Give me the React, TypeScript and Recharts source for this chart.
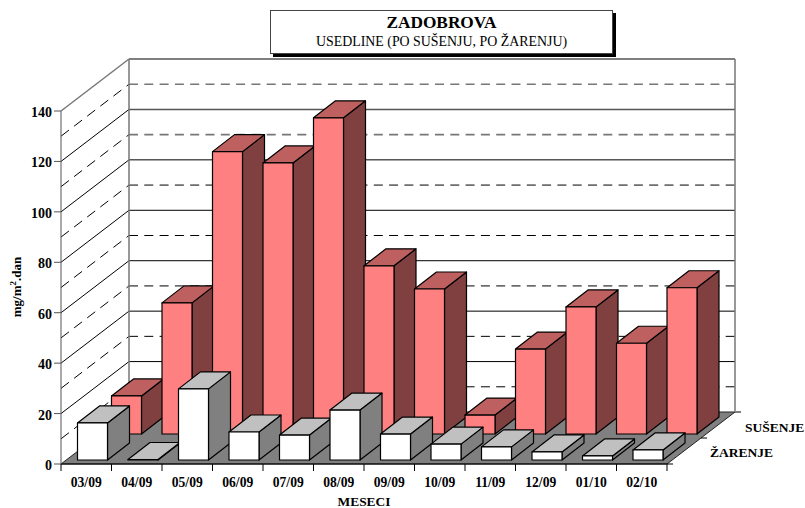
import React from "react";
import { ComposedChart, Bar, XAxis, YAxis, CartesianGrid } from "recharts";

const categories = ["03/09","04/09","05/09","06/09","07/09","08/09","09/09","10/09","11/09","12/09","01/10","02/10"];
const susenje = [15.1,52,112,107.5,125.4,66.7,57.5,7.5,33.7,50.4,36,58];
const zarenje = [14.7,0.2,28.2,11.1,9.9,19.8,10.3,6.3,5.2,3.2,1.6,4];
const wallValues = [0,10,20,30,40,50,60,70,80,90,100,110,120,130,140];
const yTicks = [0,20,40,60,80,100,120,140];
const depthNames = ["SUŠENJE","ŽARENJE"];
const table = categories.map((month, i) => ({ month, susenje: susenje[i], zarenje: zarenje[i] }));

const WALL_DX = 68;
const WALL_DY = -52;
const SERIF = "'Liberation Serif', 'Times New Roman', serif";

const makeBox = (front: string, top: string, side: string, dx: number, dy: number) => (p: any) => {
  const x = p.x + dx, y = p.y + dy, w = p.width, h = p.height;
  const ox = 22, oy = -17;
  return (
    <g stroke="#000" strokeWidth={1.2} strokeLinejoin="round">
      <path d={`M${x + w} ${y}L${x + w + ox} ${y + oy}V${y + h + oy}L${x + w} ${y + h}Z`} fill={side} />
      <path d={`M${x} ${y}L${x + ox} ${y + oy}H${x + w + ox}L${x + w} ${y}Z`} fill={top} />
      <rect x={x} y={y} width={w} height={h} fill={front} />
    </g>
  );
};
const redBox = makeBox("#FF8080", "#BF6060", "#804040", 40.5, -30);
const whiteBox = makeBox("#FFFFFF", "#C0C0C0", "#808080", 6.5, -4);

const WallLine = (p: any) => {
  const value = wallValues[p.index];
  const { x1, x2, y1 } = p;
  const yb = y1 + WALL_DY;
  const dashed = value % 20 !== 0;
  const upper = value >= 110;
  const hStroke = !upper ? "#000" : dashed ? "#777" : "#555";
  const dash = dashed ? "10 6.5" : undefined;
  const line = (
    <>
      <path d={`M${x1} ${y1}L${x1 + WALL_DX} ${yb}`} fill="none" stroke={value === 140 ? "#777" : "#000"} strokeWidth={value === 140 ? 1.5 : 1} strokeDasharray={dash} />
      <path d={`M${x1 + WALL_DX} ${yb}H${x2 + WALL_DX}`} fill="none" stroke={hStroke} strokeWidth={upper ? 1.6 : 1} strokeDasharray={dashed ? "9 6.3" : undefined} />
    </>
  );
  if (value === 0) {
    return (
      <g key={p.index}>
        <path d={`M${x1} ${y1}L${x1 + WALL_DX} ${yb}H${x2 + WALL_DX}L${x2} ${y1}Z`} fill="#808080" stroke="#222" strokeWidth={1} />
        {[0, 1, 2].map((k) => (
          <line key={k} x1={x2 + (WALL_DX * k) / 2} x2={x2 + (WALL_DX * k) / 2 + 6} y1={y1 + (WALL_DY * k) / 2} y2={y1 + (WALL_DY * k) / 2} stroke="#000" />
        ))}
        {depthNames.map((name, k) => (
          <text key={name} x={k === 0 ? 745 : 710} y={k === 0 ? 432 : 457} fontFamily={SERIF} fontWeight="bold" fontSize={13.5} fill="#000">{name}</text>
        ))}
      </g>
    );
  }
  if (value === 140) {
    return (
      <g key={p.index}>
        {line}
        <path d={`M${x1 + WALL_DX} ${yb}V${yb + 352}M${x2 + WALL_DX} ${yb}V${yb + 352}`} fill="none" stroke="#777" strokeWidth={1.5} />
      </g>
    );
  }
  return <g key={p.index}>{line}</g>;
};

const MonthTick = (p: any) => {
  const half = 25.25;
  const last = p.index === categories.length - 1;
  return (
    <g>
      <line x1={p.x - half} x2={p.x - half} y1={p.y - 8} y2={p.y - 1} stroke="#000" />
      {last && <line x1={p.x + half} x2={p.x + half} y1={p.y - 8} y2={p.y - 1} stroke="#000" />}
      <text x={p.x} y={p.y + 15} textAnchor="middle" fontFamily={SERIF} fontWeight="bold" fontSize={13.6} fill="#000">{p.payload.value}</text>
    </g>
  );
};

export default function App() {
  return (
    <div style={{ position: "absolute", left: 0, top: 0, width: 805, height: 508, background: "#fff" }}>
      <ComposedChart width={805} height={508} data={table} margin={{ top: 111, right: 138, bottom: 14, left: 11 }}>
        <CartesianGrid vertical={false} horizontal={WallLine} horizontalValues={wallValues} />
        <XAxis dataKey="month" xAxisId="main" height={30} interval={0} tickLine={false} stroke="#000" tick={MonthTick}
          label={{ value: "MESECI", position: "insideBottom", offset: -12, fontFamily: SERIF, fontWeight: "bold", fontSize: 13.4, fill: "#000" }} />
        <XAxis dataKey="month" xAxisId="hiddenAxis" hide height={0} />
        <YAxis width={50} domain={[0, 140]} ticks={yTicks} tickSize={7} tickMargin={2} stroke="#555"
          tick={{ fontFamily: SERIF, fontWeight: "bold", fontSize: 14, fill: "#000", dy: 1 }} interval={0} />
        <Bar dataKey="susenje" xAxisId="main" barSize={30} shape={redBox} isAnimationActive={false} />
        <Bar dataKey="zarenje" xAxisId="hiddenAxis" barSize={30} shape={whiteBox} isAnimationActive={false} />
      </ComposedChart>
      <div style={{ position: "absolute", left: 17, top: 287, transform: "translate(-50%,-50%) rotate(-90deg)", fontFamily: SERIF, fontWeight: "bold", fontSize: 13, lineHeight: "14px", whiteSpace: "nowrap" }}>mg/m<sup style={{ fontSize: 9, lineHeight: 0 }}>2</sup>.dan</div>
      <div style={{ position: "absolute", left: 270, top: 10, width: 343, height: 44, boxSizing: "border-box", border: "1px solid #444", background: "#fff", boxShadow: "3px 3px 0 #000", textAlign: "center", fontFamily: SERIF, color: "#000" }}>
        <div style={{ fontWeight: "bold", fontSize: 17.3, lineHeight: "20px", marginTop: 2 }}>ZADOBROVA</div>
        <div style={{ fontSize: 13.9, lineHeight: "18px" }}>USEDLINE (PO SUŠENJU, PO ŽARENJU)</div>
      </div>
    </div>
  );
}
